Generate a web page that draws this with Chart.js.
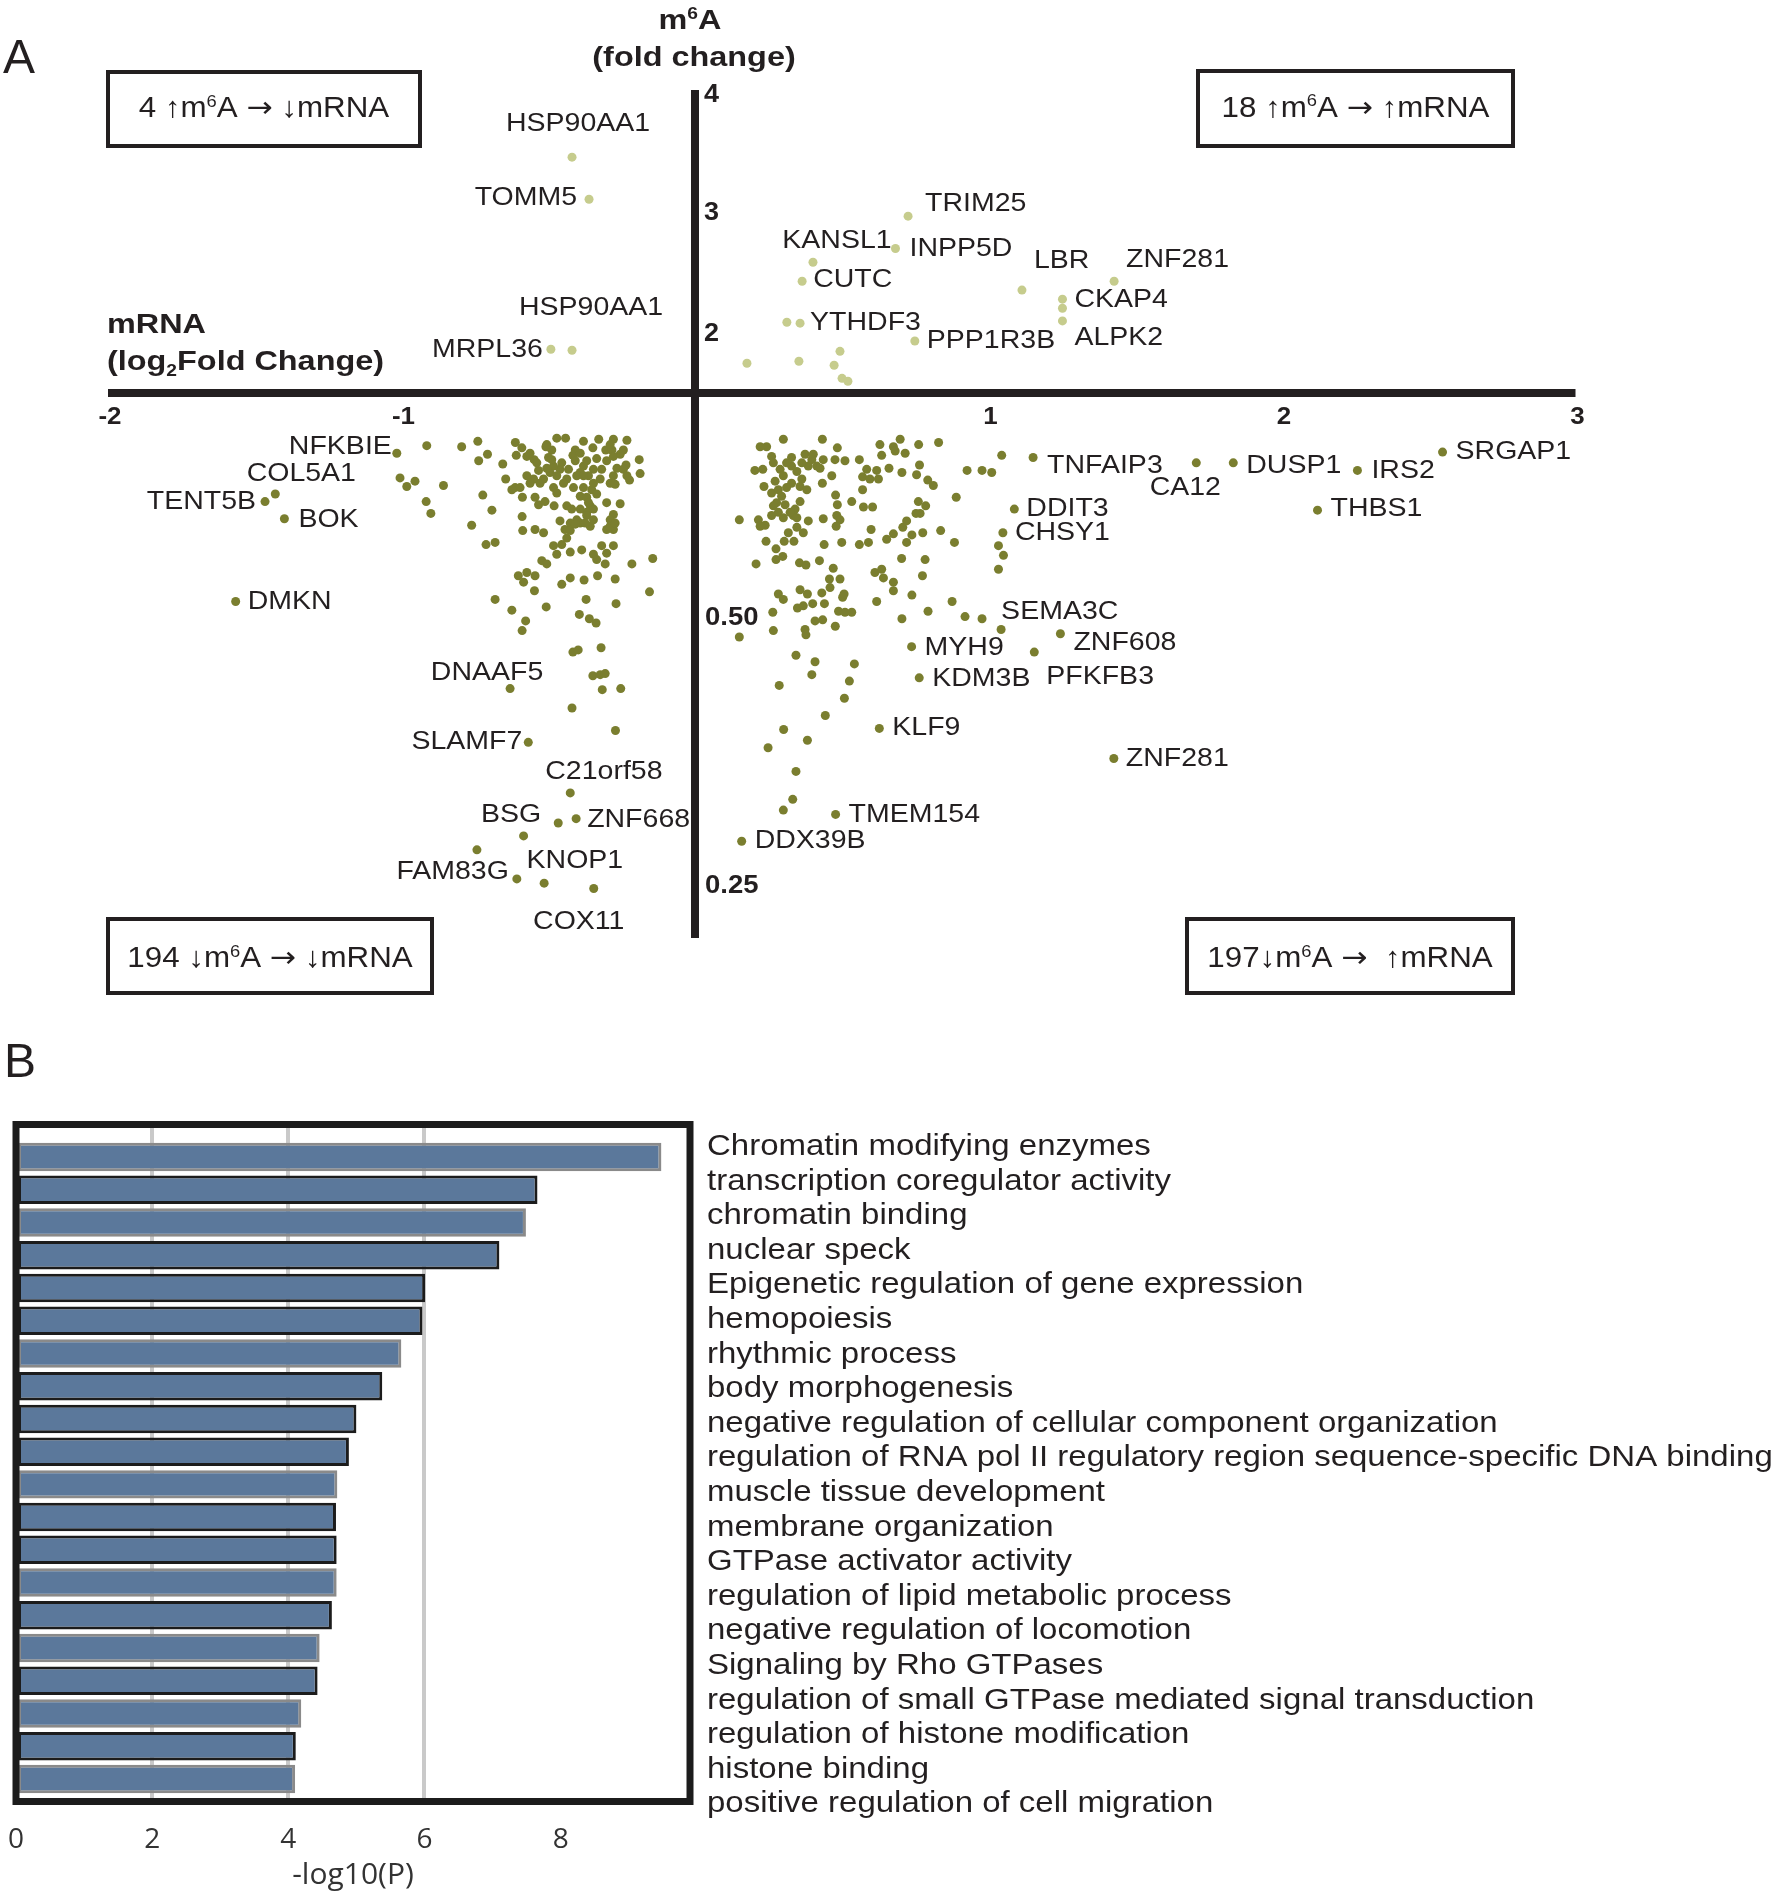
<!DOCTYPE html>
<html>
<head>
<meta charset="utf-8">
<script src="https://cdn.jsdelivr.net/npm/chart.js@4.4.1/dist/chart.umd.min.js"></script>
<style>
  body { margin: 0; background: #fff; width: 1784px; height: 1900px; position: relative; overflow: hidden; }
  canvas { position: absolute; left: 0; }
  #chartA { top: 0; }
  #chartB { top: 1010px; }
</style>
</head>
<body>
<canvas id="chartA" width="1784" height="1010" style="width:1784px;height:1010px"></canvas>
<canvas id="chartB" width="1784" height="890" style="width:1784px;height:890px"></canvas>
<script>
// ---- panel A data: [mRNA log2FC, m6A fold change] ----
// m6A up (top half)
var upLabeled = [
  ['HSP90AA1', -0.419, 3.446], ['TOMM5', -0.361, 3.099], ['HSP90AA1', -0.419, 1.853], ['MRPL36', -0.491, 1.861],
  ['KANSL1', 0.402, 2.579], ['CUTC', 0.365, 2.422], ['YTHDF3', 0.358, 2.076], ['TRIM25', 0.726, 2.959],
  ['INPP5D', 0.683, 2.692], ['LBR', 1.114, 2.349], ['ZNF281', 1.428, 2.422], ['CKAP4', 1.252, 2.274],
  ['ALPK2', 1.252, 2.095], ['PPP1R3B', 0.749, 1.929]
];
var upOther = [
  [0.313, 2.084], [0.177, 1.745], [0.354, 1.762], [0.494, 1.844], [0.474, 1.729], [0.501, 1.621], [0.521, 1.597], [1.252, 2.199]
];

// m6A down (bottom half)
var downLabeled = [
  ['NFKBIE', -1.016, 0.651], ['COL5A1', -1.430, 0.613], ['TENT5B', -1.465, 0.606], ['BOK', -1.399, 0.590],
  ['DMKN', -1.565, 0.513], ['DNAAF5', -0.630, 0.432], ['SLAMF7', -0.568, 0.382], ['C21orf58', -0.425, 0.335],
  ['BSG', -0.466, 0.307], ['ZNF668', -0.405, 0.311], ['KNOP1', -0.584, 0.295], ['FAM83G', -0.607, 0.255],
  ['COX11', -0.345, 0.246], ['DDX39B', 0.159, 0.290], ['TMEM154', 0.479, 0.315], ['KLF9', 0.628, 0.395],
  ['MYH9', 0.738, 0.471], ['KDM3B', 0.764, 0.442], ['PFKFB3', 1.156, 0.466], ['ZNF608', 1.245, 0.483],
  ['SEMA3C', 1.043, 0.487], ['TNFAIP3', 1.152, 0.647], ['CA12', 1.708, 0.642], ['DUSP1', 1.834, 0.642],
  ['IRS2', 2.257, 0.635], ['SRGAP1', 2.547, 0.652], ['THBS1', 2.121, 0.598], ['DDIT3', 1.088, 0.599],
  ['CHSY1', 1.049, 0.577], ['ZNF281', 1.427, 0.367]
];
var downLeft = [
  [-0.914,0.658],[-0.795,0.657],[-0.740,0.662],[-0.707,0.650],[-0.737,0.644],[-0.655,0.641],[-0.645,0.627],[-0.612,0.661],
  [-0.590,0.656],[-0.609,0.649],[-0.573,0.648],[-0.548,0.645],[-0.508,0.657],[-0.488,0.654],[-0.471,0.665],[-0.441,0.665],
  [-0.380,0.662],[-0.328,0.664],[-0.278,0.664],[-0.232,0.663],[-0.408,0.654],[-0.416,0.649],[-0.391,0.651],[-0.348,0.656],
  [-0.304,0.654],[-0.283,0.654],[-0.255,0.650],[-0.289,0.659],[-0.335,0.646],[-0.301,0.644],[-0.190,0.645],[-0.235,0.640],
  [-0.266,0.637],[-0.244,0.636],[-0.187,0.632],[-0.223,0.626],[-0.278,0.630],[-0.289,0.623],[-0.272,0.622],[-0.346,0.636],
  [-0.380,0.639],[-0.391,0.633],[-0.363,0.630],[-0.403,0.630],[-0.437,0.627],[-0.460,0.636],[-0.482,0.639],[-0.494,0.633],
  [-0.471,0.630],[-0.533,0.635],[-0.516,0.627],[-0.528,0.623],[-0.550,0.627],[-0.573,0.630],[-0.562,0.623],[-0.613,0.619],
  [-0.596,0.619],[-0.624,0.617],[-0.588,0.610],[-0.545,0.610],[-0.533,0.603],[-0.511,0.606],[-0.480,0.602],[-0.437,0.602],
  [-0.482,0.619],[-0.448,0.623],[-0.414,0.619],[-0.380,0.619],[-0.352,0.617],[-0.335,0.613],[-0.391,0.611],[-0.369,0.610],
  [-0.357,0.602],[-0.346,0.599],[-0.369,0.596],[-0.391,0.599],[-0.403,0.589],[-0.425,0.586],[-0.460,0.588],[-0.443,0.580],
  [-0.425,0.579],[-0.391,0.586],[-0.357,0.583],[-0.369,0.593],[-0.301,0.605],[-0.255,0.604],[-0.278,0.594],[-0.289,0.589],
  [-0.301,0.580],[-0.278,0.580],[-1.005,0.628],[-0.982,0.620],[-0.954,0.625],[-0.857,0.621],[-0.916,0.606],[-0.900,0.595],
  [-0.723,0.612],[-0.692,0.598],[-0.761,0.584],[-0.589,0.592],[-0.587,0.579],[-0.545,0.580],[-0.516,0.577],[-0.712,0.566],
  [-0.681,0.568],[-0.482,0.565],[-0.454,0.566],[-0.471,0.557],[-0.425,0.559],[-0.386,0.561],[-0.346,0.557],[-0.318,0.565],
  [-0.278,0.565],[-0.301,0.558],[-0.335,0.552],[-0.306,0.548],[-0.215,0.548],[-0.144,0.553],[-0.522,0.551],[-0.505,0.548],
  [-0.602,0.537],[-0.573,0.540],[-0.545,0.537],[-0.584,0.531],[-0.454,0.529],[-0.425,0.535],[-0.378,0.533],[-0.332,0.537],
  [-0.272,0.534],[-0.562,0.651],[-0.499,0.647],[-0.408,0.644],[-0.369,0.644],[-0.318,0.636],[-0.431,0.636],[-0.505,0.637],
  [-0.323,0.627],[-0.363,0.605],[-0.408,0.585],[-0.374,0.586],[-0.289,0.583],[-0.488,0.645],[-0.539,0.642],[-0.454,0.642],
  [-0.380,0.630],[-0.346,0.623],[-0.278,0.648],[-0.244,0.654],[-0.471,0.614],[-0.420,0.599],[-0.346,0.589],[-0.437,0.572],
  [-0.272,0.586],[-0.505,0.659],[-0.232,0.630],
  [-0.547,0.523],[-0.155,0.522],[-0.681,0.515],[-0.624,0.505],[-0.507,0.508],[-0.371,0.515],[-0.269,0.511],[-0.577,0.495],
  [-0.589,0.486],[-0.394,0.501],[-0.360,0.497],[-0.337,0.493],[-0.416,0.466],[-0.398,0.468],[-0.320,0.470],[-0.348,0.444],
  [-0.323,0.445],[-0.306,0.446],[-0.316,0.431],[-0.253,0.432],[-0.419,0.414],[-0.271,0.393],[-0.743,0.282],[-0.514,0.251]
];
var downRight = [
  [0.151,0.589],[0.208,0.548],[0.244,0.657],[0.261,0.648],[0.301,0.664],[0.204,0.635],[0.231,0.636],[0.235,0.620],
  [0.261,0.614],[0.290,0.636],[0.301,0.630],[0.329,0.647],[0.329,0.639],[0.347,0.634],[0.375,0.650],[0.403,0.650],
  [0.386,0.639],[0.415,0.639],[0.437,0.645],[0.477,0.645],[0.511,0.644],[0.485,0.656],[0.434,0.664],[0.466,0.630],
  [0.434,0.623],[0.329,0.623],[0.358,0.620],[0.381,0.617],[0.284,0.617],[0.295,0.611],[0.278,0.605],[0.307,0.603],
  [0.358,0.606],[0.341,0.599],[0.261,0.593],[0.284,0.596],[0.216,0.589],[0.239,0.584],[0.335,0.593],[0.386,0.588],
  [0.347,0.582],[0.369,0.577],[0.437,0.590],[0.483,0.593],[0.494,0.589],[0.481,0.583],[0.479,0.612],[0.485,0.603],
  [0.534,0.606],[0.242,0.569],[0.276,0.562],[0.304,0.569],[0.337,0.569],[0.276,0.552],[0.299,0.555],[0.356,0.549],
  [0.378,0.547],[0.424,0.551],[0.440,0.566],[0.500,0.568],[0.471,0.544],[0.458,0.534],[0.494,0.534],[0.560,0.645],
  [0.571,0.629],[0.596,0.627],[0.625,0.627],[0.619,0.635],[0.571,0.617],[0.574,0.601],[0.605,0.601],[0.630,0.659],
  [0.636,0.649],[0.676,0.657],[0.682,0.653],[0.699,0.664],[0.716,0.651],[0.661,0.637],[0.705,0.633],[0.762,0.659],
  [0.765,0.640],[0.755,0.631],[0.830,0.661],[0.793,0.626],[0.812,0.621],[0.600,0.580],[0.560,0.566],[0.591,0.568],
  [0.676,0.576],[0.708,0.582],[0.721,0.588],[0.739,0.575],[0.721,0.568],[0.776,0.577],[0.761,0.606],[0.786,0.602],
  [0.767,0.595],[0.753,0.595],[0.837,0.579],[0.890,0.610],[0.884,0.568],[0.704,0.553],[0.784,0.552],[0.613,0.540],
  [0.636,0.543],[0.642,0.535],[0.676,0.531],[0.775,0.537],[0.927,0.635],[0.978,0.635],[1.011,0.633],[1.045,0.649],
  [1.034,0.565],[1.051,0.556],[1.034,0.543],
  [0.222,0.657],[0.267,0.642],[0.312,0.642],[0.364,0.642],[0.312,0.619],[0.267,0.602],[0.324,0.596],[0.347,0.591],
  [0.426,0.637],[0.398,0.645],[0.301,0.591],[0.364,0.627],[0.273,0.625],[0.222,0.583],[0.318,0.577],[0.585,0.636],
  [0.653,0.571],
  [0.920,0.499],[0.978,0.497],[0.876,0.513],[0.794,0.504],[0.739,0.519],[0.705,0.497],
  [0.284,0.520],[0.301,0.515],[0.358,0.524],[0.383,0.520],[0.432,0.521],[0.460,0.526],[0.503,0.517],[0.508,0.520],
  [0.619,0.513],[0.676,0.523],[0.265,0.503],[0.267,0.486],[0.349,0.507],[0.369,0.509],[0.401,0.511],[0.441,0.511],
  [0.489,0.504],[0.511,0.503],[0.534,0.503],[0.409,0.495],[0.435,0.496],[0.478,0.490],[0.375,0.487],[0.378,0.482],
  [0.151,0.480],[0.344,0.463],[0.409,0.457],[0.398,0.445],[0.543,0.455],[0.287,0.435],[0.526,0.439],[0.509,0.423],
  [0.444,0.407],[0.302,0.394],[0.383,0.384],[0.249,0.377],[0.344,0.355],[0.333,0.329],[0.301,0.319]
];

var mrnaTicks = [-2, -1, 1, 2, 3];
var upTicks = [2, 3, 4];
var downTicks = [0.25, 0.5];
var downTickLabels = ['0.25', '0.50'];

// ---- panel B data ----
var terms = [
  'Chromatin modifying enzymes', 'transcription coregulator activity', 'chromatin binding', 'nuclear speck',
  'Epigenetic regulation of gene expression', 'hemopoiesis', 'rhythmic process', 'body morphogenesis',
  'negative regulation of cellular component organization',
  'regulation of RNA pol II regulatory region sequence-specific DNA binding', 'muscle tissue development',
  'membrane organization', 'GTPase activator activity', 'regulation of lipid metabolic process',
  'negative regulation of locomotion', 'Signaling by Rho GTPases',
  'regulation of small GTPase mediated signal transduction', 'regulation of histone modification',
  'histone binding', 'positive regulation of cell migration'
];
var logP = [9.48, 7.66, 7.49, 7.10, 6.01, 5.97, 5.66, 5.38, 5.00, 4.89, 4.72, 4.70, 4.71, 4.71, 4.64, 4.46, 4.43, 4.19, 4.11, 4.10];

// ---- styles ----
var INK = '#231f20';
var FAM = '"Liberation Sans", Arial, sans-serif';
// label offsets in px [dx, dy, align], same order as the labeled lists
var upLabelPos = [
  [6,-26,'center'],[-12,6,'right'],[19,-35,'center'],[-8,8,'right'],[24,-14,'center'],[11,6,'left'],[10,7,'left'],
  [17,-5,'left'],[14,7,'left'],[12,-22,'left'],[12,-14,'left'],[12,8,'left'],[12,24,'left'],[12,7,'left']
];
var downLabelPos = [
  [-5,1,'right'],[26,-13,'center'],[-9,7,'right'],[14,8,'left'],[12,7,'left'],[-23,-9,'center'],[-6,7,'right'],
  [-25,-14,'left'],[-17,-1,'right'],[11,8,'left'],[3,32,'left'],[-8,0,'right'],[-15,40,'center'],[13,7,'left'],
  [13,8,'left'],[13,7,'left'],[13,8,'left'],[13,8,'left'],[12,32,'left'],[13,16,'left'],[0,-10,'left'],
  [14,16,'left'],[-11,32,'center'],[13,10,'left'],[14,8,'left'],[13,7,'left'],[13,6,'left'],[12,7,'left'],
  [12,7,'left'],[12,8,'left']
];
var borderTone = ['g','d','g','d','d','d','g','d','d','d','g','d','d','g','d','g','d','g','d','g'];

function toPoints(list) {
  return list.map(function (p) { return { x: p[p.length - 2], y: p[p.length - 1] }; });
}

function drawText(ctx, text, x, y, font, align, sx) {
  ctx.save();
  ctx.font = font;
  ctx.textAlign = align;
  ctx.textBaseline = 'alphabetic';
  ctx.translate(x, y);
  ctx.scale(sx, 1);
  ctx.fillText(text, 0, 0);
  ctx.restore();
}

// parts: [text, 'sup'|'sub'|'arrow'|undefined]
function drawRich(ctx, parts, x, y, size, bold, align, sx) {
  function fontFor(p) {
    if (p[1] === 'arrow') return (bold ? 'bold ' : '') + size + 'px "DejaVu Sans", sans-serif';
    return (bold ? 'bold ' : '') + (p[1] ? Math.round(size * 0.6) : size) + 'px ' + FAM;
  }
  var w = 0;
  parts.forEach(function (p) { ctx.font = fontFor(p); w += ctx.measureText(p[0]).width; });
  ctx.save();
  ctx.translate(x, y);
  ctx.scale(sx, 1);
  ctx.textAlign = 'left';
  ctx.textBaseline = 'alphabetic';
  var cx = align === 'center' ? -w / 2 : (align === 'right' ? -w : 0);
  parts.forEach(function (p) {
    ctx.font = fontFor(p);
    var dy = p[1] === 'sup' ? -size * 0.36 : (p[1] === 'sub' ? size * 0.22 : 0);
    ctx.fillText(p[0], cx, dy);
    cx += ctx.measureText(p[0]).width;
  });
  ctx.restore();
}

// axes, ticks, boxes and gene labels for panel A
var quadrantPlugin = {
  id: 'quadrants',
  beforeDatasetsDraw: function (chart) {
    var ctx = chart.ctx, x = chart.scales.x, yu = chart.scales.yUp, yd = chart.scales.yDown;
    var x0 = x.getPixelForValue(0), yMid = yu.bottom;
    ctx.save();
    ctx.fillStyle = INK;
    mrnaTicks.forEach(function (v) {
      drawText(ctx, String(v), x.getPixelForValue(v) + 2, yMid + 31, 'bold 24px ' + FAM, 'center', 1.08);
    });
    upTicks.forEach(function (v) {
      drawText(ctx, String(v), x0 + 9, Math.max(yu.getPixelForValue(v), yu.top + 3) + 9, 'bold 25px ' + FAM, 'left', 1.08);
    });
    downTicks.forEach(function (v, i) {
      drawText(ctx, downTickLabels[i], x0 + 10, yd.getPixelForValue(v) + 9, 'bold 25px ' + FAM, 'left', 1.1);
    });
    ctx.strokeStyle = INK;
    ctx.lineWidth = 8;
    ctx.beginPath();
    ctx.moveTo(x.left, yMid); ctx.lineTo(x.right, yMid);
    ctx.moveTo(x0, yu.top); ctx.lineTo(x0, yd.bottom);
    ctx.stroke();
    ctx.restore();
  },
  afterDatasetsDraw: function (chart) {
    var ctx = chart.ctx, x = chart.scales.x, yu = chart.scales.yUp, yd = chart.scales.yDown;
    ctx.save();
    ctx.fillStyle = INK;
    var lf = '25px ' + FAM;
    upLabeled.forEach(function (p, i) {
      var o = upLabelPos[i];
      drawText(ctx, p[0], x.getPixelForValue(p[1]) + o[0], yu.getPixelForValue(p[2]) + o[1], lf, o[2], 1.14);
    });
    downLabeled.forEach(function (p, i) {
      var o = downLabelPos[i];
      drawText(ctx, p[0], x.getPixelForValue(p[1]) + o[0], yd.getPixelForValue(p[2]) + o[1], lf, o[2], 1.14);
    });
    // axis titles
    drawRich(ctx, [['m'], ['6', 'sup'], ['A']], 690, 29, 27, true, 'center', 1.2);
    drawRich(ctx, [['(fold change)']], 694, 66, 27, true, 'center', 1.2);
    drawRich(ctx, [['mRNA']], 107, 333, 27, true, 'left', 1.2);
    drawRich(ctx, [['(log'], ['2', 'sub'], ['Fold Change)']], 107, 370, 27, true, 'left', 1.2);
    // quadrant boxes
    var boxes = [
      [106, 70, 422, 148, 8, [['4 \u2191m'], ['6', 'sup'], ['A '], ['\u2192', 'arrow'], [' \u2193mRNA']]],
      [1196, 69, 1515, 148, 8, [['18 \u2191m'], ['6', 'sup'], ['A '], ['\u2192', 'arrow'], [' \u2191mRNA']]],
      [106, 917, 434, 995, 11, [['194 \u2193m'], ['6', 'sup'], ['A '], ['\u2192', 'arrow'], [' \u2193mRNA']]],
      [1185, 917, 1515, 995, 11, [['197\u2193m'], ['6', 'sup'], ['A '], ['\u2192', 'arrow'], ['  \u2191mRNA']]]
    ];
    ctx.strokeStyle = INK;
    ctx.lineWidth = 4;
    boxes.forEach(function (b) {
      ctx.strokeRect(b[0] + 2, b[1] + 2, b[2] - b[0] - 4, b[3] - b[1] - 4);
      drawRich(ctx, b[5], (b[0] + b[2]) / 2, (b[1] + b[3]) / 2 + b[4], 29, false, 'center', 1.08);
    });
    drawText(ctx, 'A', 3, 73, '48px ' + FAM, 'left', 1);
    ctx.restore();
  }
};

var ctxA = document.getElementById('chartA').getContext('2d');
var scatterChart = new Chart(ctxA, {
  type: 'scatter',
  data: {
    datasets: [
      {
        label: 'm6A up',
        data: toPoints(upOther.concat(upLabeled)),
        yAxisID: 'yUp',
        backgroundColor: '#c6cc8d',
        borderWidth: 0,
        pointRadius: 4.5,
        clip: false
      },
      {
        label: 'm6A down',
        data: toPoints(downLeft.concat(downRight, downLabeled)),
        yAxisID: 'yDown',
        backgroundColor: '#7a7e2f',
        borderWidth: 0,
        pointRadius: 4.5,
        clip: false
      }
    ]
  },
  options: {
    responsive: false,
    animation: false,
    devicePixelRatio: 1,
    events: [],
    layout: { padding: { left: 108, right: 208.5, top: 90, bottom: 72 } },
    plugins: { legend: { display: false }, tooltip: { enabled: false } },
    scales: {
      x: { type: 'linear', min: -2, max: 3, display: false },
      yDown: { type: 'linear', position: 'left', min: 0.2, max: 0.707, display: false, stack: 'm6a', stackWeight: 545, weight: 1 },
      yUp: { type: 'linear', position: 'left', min: 1.5, max: 4, display: false, stack: 'm6a', stackWeight: 303, weight: 2 }
    }
  },
  plugins: [quadrantPlugin]
});

// frame and term labels for panel B
var enrichPlugin = {
  id: 'enrichFrame',
  afterDraw: function (chart) {
    var ctx = chart.ctx, a = chart.chartArea;
    ctx.save();
    ctx.strokeStyle = '#1c1c1c';
    ctx.lineWidth = 7;
    ctx.strokeRect(a.left, a.top - 3.5, a.right - a.left, a.bottom - a.top + 7);
    ctx.fillStyle = INK;
    terms.forEach(function (t, i) {
      drawText(ctx, t, 707, 145 + 34.6 * i, '30px ' + FAM, 'left', 1.1);
    });
    drawText(ctx, 'B', 4, 67, '48px ' + FAM, 'left', 1);
    ctx.restore();
  }
};

var ctxB = document.getElementById('chartB').getContext('2d');
var barChart = new Chart(ctxB, {
  type: 'bar',
  data: {
    datasets: [{
      label: '-log10(P)',
      data: logP.map(function (v, i) { return { x: v, y: i }; }),
      backgroundColor: '#5b789b',
      borderColor: borderTone.map(function (t) { return t === 'd' ? '#1c1c1c' : '#8a8a8a'; }),
      borderWidth: 3,
      borderSkipped: false,
      categoryPercentage: 1,
      barPercentage: 0.87
    }]
  },
  options: {
    indexAxis: 'y',
    responsive: false,
    animation: false,
    devicePixelRatio: 1,
    events: [],
    layout: { padding: { left: 16, right: 1094, top: 118, bottom: 0 } },
    plugins: { legend: { display: false }, tooltip: { enabled: false } },
    scales: {
      x: {
        type: 'linear', min: 0, max: 9.9, position: 'bottom', offset: false,
        ticks: { stepSize: 2, includeBounds: false, padding: 0, color: '#333', font: { family: 'Open Sans', size: 28 } },
        grid: {
          drawTicks: true,
          tickLength: 25,
          tickColor: 'rgba(0,0,0,0)',
          lineWidth: 4,
          color: function (c) { return (c.tick && [2, 4, 6].indexOf(c.tick.value) >= 0) ? '#c9c9c9' : 'rgba(0,0,0,0)'; }
        },
        border: { display: false },
        title: { display: true, text: '-log10(P)', color: '#333', font: { family: 'Open Sans', size: 30 }, padding: { top: 0, bottom: 7 } },
        afterFit: function (s) { s.height = 102; }
      },
      y: {
        type: 'linear', reverse: true, min: -0.886, max: 19.58, display: false, offset: false,
        grid: { offset: false },
        ticks: { stepSize: 1, includeBounds: false }
      }
    }
  },
  plugins: [enrichPlugin]
});
</script>
</body>
</html>
